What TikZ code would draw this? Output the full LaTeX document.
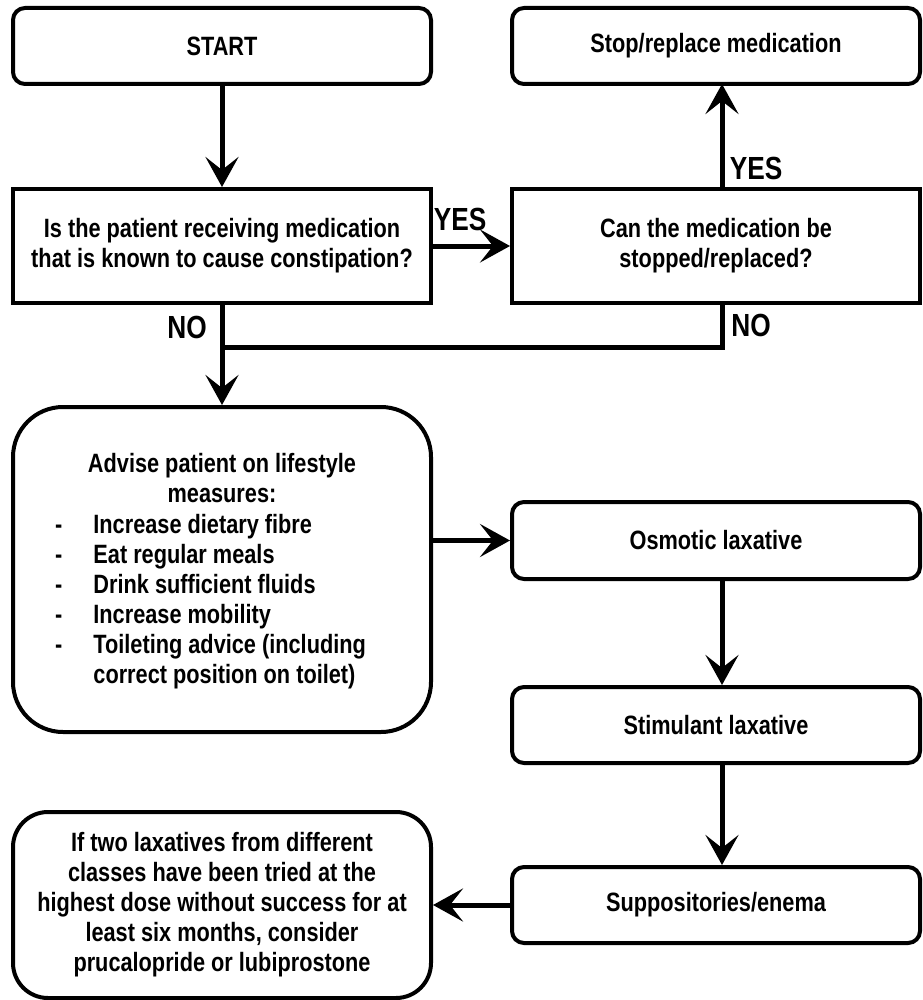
\documentclass[tikz,border=0pt]{standalone}
\usepackage{fontspec}
\setmainfont[FakeStretch=0.82]{Liberation Sans}
\usetikzlibrary{arrows.meta}
\begin{document}
\begin{tikzpicture}[x=1pt,y=-1pt,
  box/.style={draw,line width=4pt,minimum width=418pt,inner sep=0pt,align=center,
     font=\fontsize{26.5}{30}\selectfont\bfseries},
  rbox/.style={box,rounded corners=12pt},
  txt/.style={inner sep=0pt,align=center,font=\fontsize{26.5}{30}\selectfont\bfseries},
  lbl/.style={inner sep=0pt,font=\fontsize{32}{36}\selectfont\bfseries},
  conn/.style={line width=5pt},
  arr/.style={conn,-{Stealth[length=30pt,width=33pt,inset=13pt]}}]
\useasboundingbox (0,0) rectangle (922,1000);

\node[rbox,minimum height=76pt] (start) at (222,46) {START};
\node[box,minimum height=114pt] (q1) at (222,246) {Is the patient receiving medication\\that is known to cause constipation?};
\node[rbox,minimum width=408pt,minimum height=76pt] (stop) at (716,46) {Stop/replace medication};
\node[box,minimum width=408pt,minimum height=114pt] (q2) at (716,246) {Can the medication be\\stopped/replaced?};

\node[box,rounded corners=50pt,minimum height=325pt] (life) at (222,569.5) {};
\node[txt,anchor=base] (lifehead) at (222,502) {Advise patient on lifestyle\\measures:};
\node[txt,anchor=north west,align=left] (lifelist) at (55,512) {%
  \begin{tabular}{@{}l@{\hspace{31pt}}l@{}}
  - & Increase dietary fibre\\
  - & Eat regular meals\\
  - & Drink sufficient fluids\\
  - & Increase mobility\\
  - & Toileting advice (including\\
    & correct position on toilet)
  \end{tabular}};

\node[rbox,minimum width=408pt,minimum height=77pt] (osm) at (716,540.5) {Osmotic laxative};
\node[rbox,minimum width=408pt,minimum height=76pt] (stim) at (716,725) {Stimulant laxative};
\node[rbox,minimum width=408pt,minimum height=76pt] (supp) at (716,905) {Suppositories/enema};
\node[box,rounded corners=35pt,minimum height=186pt] (final) at (222,905) {If two laxatives from different\\classes have been tried at the\\highest dose without success for at\\least six months, consider\\prucalopride or lubiprostone};

\coordinate (j) at (222,347);
\coordinate (q2s) at (722,303);
\coordinate (q2n) at (722,189);
\coordinate (stops) at (722,84);

\draw[arr] (start) -- (q1);
\draw[arr] (q1.east) -- (q2.west);
\draw[arr] (q2n) -- (stops);
\draw[arr] (q1.south) -- (life.north);
\draw[conn] (q2s) |- (j);
\draw[arr] (osm.west -| life.east) -- (osm.west);
\draw[arr] ([xshift=6pt]osm.south) -- ([xshift=6pt]stim.north);
\draw[arr] ([xshift=6pt]stim.south) -- ([xshift=6pt]supp.north);
\draw[arr] (supp.west) -- (supp.west -| final.east);

\node[lbl] (yes1) at (460,219) {YES};
\node[lbl] (yes2) at (756,168) {YES};
\node[lbl] (no1) at (187,327) {NO};
\node[lbl] (no2) at (751,325) {NO};
\end{tikzpicture}
\end{document}
